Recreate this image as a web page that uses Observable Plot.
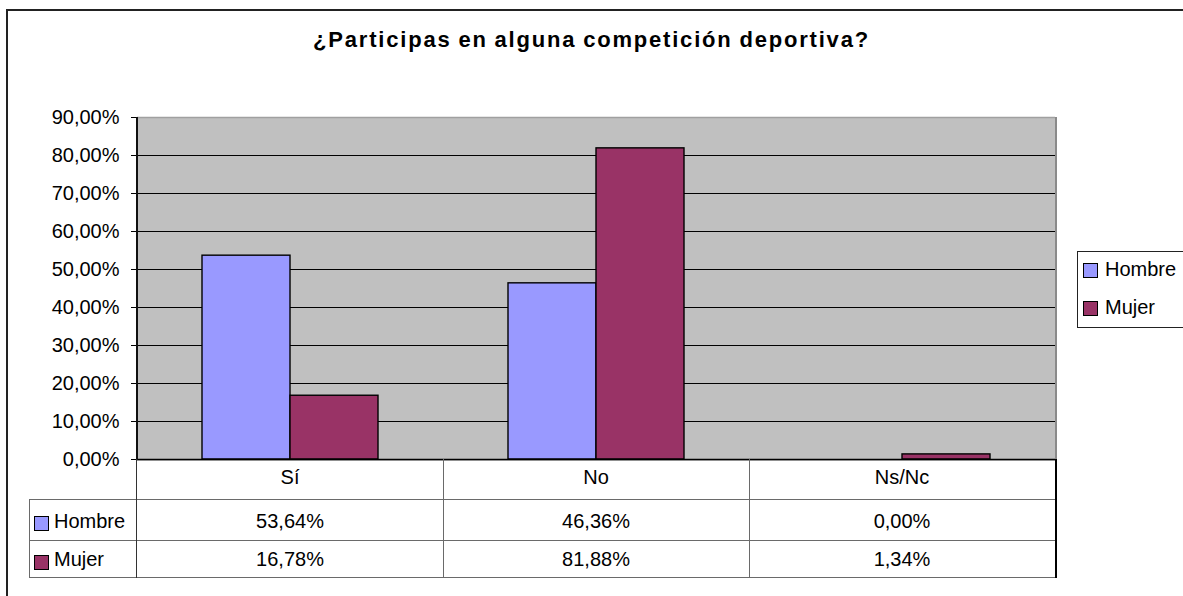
<!DOCTYPE html>
<html>
<head>
<meta charset="utf-8">
<script src="https://cdn.jsdelivr.net/npm/d3@7"></script>
<script src="https://cdn.jsdelivr.net/npm/@observablehq/plot@0.6"></script>
<style>
  html, body { margin: 0; padding: 0; background: #fff; overflow: hidden; }
  #wrap { position: relative; width: 1183px; height: 596px; overflow: hidden;
          font-family: "Liberation Sans", Arial, sans-serif; color: #000; }
  #outer { position: absolute; left: 6px; top: 9px; width: 1300px; height: 700px;
           border-left: 2px solid #222; border-top: 2px solid #222; }
  #title { position: absolute; left: 0; width: 1183px; top: 29px; text-align: center;
           font-weight: bold; font-size: 22px; line-height: 22px; letter-spacing: 1.8px; word-spacing: -1px; }
  #chart svg { position: absolute; left: 0; top: 0; }
  .abs { position: absolute; }
  .txt { position: absolute; font-size: 20px; line-height: 20px; white-space: nowrap; }
  .sw { position: absolute; width: 13px; height: 13px; border: 1px solid #000; box-sizing: content-box; }
  .hl { position: absolute; height: 1px; background: #6a6a6a; }
  .vl { position: absolute; width: 1px; background: #6a6a6a; }
</style>
</head>
<body>
<div id="wrap">
  <div id="outer"></div>
  <div id="title"></div>
  <div id="chart"></div>
  <div id="edges"></div>
  <div id="table"></div>
  <div id="legend"></div>
</div>
<script>
const titleText = "¿Participas en alguna competición deportiva?";
const categories = ["Sí", "No", "Ns/Nc"];
const series = ["Hombre", "Mujer"];
const hombre = [0.5364, 0.4636, 0.0000];
const mujer = [0.1678, 0.8188, 0.0134];
const seriesColors = ["#9999FF", "#993366"];
const yTicks = [0, 0.1, 0.2, 0.3, 0.4, 0.5, 0.6, 0.7, 0.8, 0.9];

const esLocale = d3.formatLocale({decimal: ",", thousands: ".", grouping: [3], currency: ["", " €"]});
const pct = esLocale.format(".2%");

const valuesBySeries = [hombre, mujer];
const data = categories.flatMap((c, i) => series.map((s, j) => ({cat: c, series: s, value: valuesBySeries[j][i]})));

document.getElementById("title").textContent = titleText;

const W = 1183, H = 596;
const plot = Plot.plot({
  width: W, height: H,
  marginLeft: 136, marginRight: 128, marginTop: 117, marginBottom: 137,
  fx: {domain: categories, padding: 0, axis: null, label: null},
  x: {domain: series, paddingInner: 0, paddingOuter: 0.72, axis: null, label: null},
  y: {domain: [0, 0.9], axis: null, label: null},
  color: {domain: series, range: seriesColors},
  style: {fontSize: "20px", fontFamily: "'Liberation Sans', Arial, sans-serif", color: "#000", background: "transparent", overflow: "visible"},
  marks: [
    Plot.frame({fill: "#C0C0C0", stroke: "#C0C0C0", strokeWidth: 2, shapeRendering: "crispEdges"}),
    Plot.gridY(yTicks.filter(t => t > 0 && t < 0.9), {stroke: "#000", strokeOpacity: 1, strokeWidth: 1}),
    Plot.ruleY([0.9], {stroke: "#a0a0a0", strokeWidth: 1.5}),
    Plot.barY(data, {fx: "cat", x: "series", y: "value", fill: "series", stroke: "#000", strokeWidth: 1.4, inset: 0}),
    Plot.ruleY([0], {stroke: "#000", strokeWidth: 1.5}),
    Plot.axisY(yTicks, {tickSize: 6, tickPadding: 12, tickFormat: pct, stroke: "#000", fill: "#000", label: null})
  ]
});
document.getElementById("chart").appendChild(plot);

const fx = plot.scale("fx");
const y = plot.scale("y");
const bw = fx.bandwidth;
function add(parent, cls, styles, text) {
  const el = document.createElement("div");
  el.className = cls;
  Object.assign(el.style, styles);
  if (text != null) el.textContent = text;
  parent.appendChild(el);
  return el;
}
const xLeft = fx.apply(categories[0]);
const xRight = fx.apply(categories[categories.length - 1]) + bw;
const yTop = y.apply(0.9), yZero = y.apply(0);

// plot-area edges: black value axis on the left, grey edge on the right
const edges = document.getElementById("edges");
add(edges, "vl", {left: (Math.round(xLeft) - 1) + "px", top: Math.round(yTop) + "px", width: "2px", height: (yZero - yTop + 1) + "px", background: "#111"});
add(edges, "vl", {left: Math.round(xRight) + "px", top: Math.round(yTop) + "px", width: "2px", height: (yZero - yTop) + "px", background: "#8a8a8a"});

// data table below the chart, aligned with the fx scale
const tableLeft = 29;
const rowTops = [yZero, 499, 540, 577];
const baselines = [484, 527.5, 566];
const table = document.getElementById("table");
for (let r = 1; r < rowTops.length; r++) {
  add(table, "hl", {left: tableLeft + "px", top: Math.round(rowTops[r]) + "px", width: (xRight - tableLeft) + "px"});
}
add(table, "vl", {left: tableLeft + "px", top: rowTops[1] + "px", height: (rowTops[3] - rowTops[1] + 1) + "px"});
categories.forEach((c, i) => {
  const x0 = fx.apply(c);
  add(table, "vl", {left: (Math.round(x0) - (i === 0 ? 1 : 0)) + "px", top: rowTops[0] + "px", height: (rowTops[3] - rowTops[0] + 1) + "px", background: i === 0 ? "#333" : "#6a6a6a"});
});
add(table, "vl", {left: Math.round(xRight) + "px", top: rowTops[0] + "px", height: (rowTops[3] - rowTops[0] + 1) + "px", background: "#000", width: "2px"});
categories.forEach((c) => {
  add(table, "txt", {left: fx.apply(c) + "px", width: bw + "px", textAlign: "center", top: (baselines[0] - 17) + "px"}, c);
});
series.forEach((s, j) => {
  const bl = baselines[j + 1];
  add(table, "sw", {left: "34px", top: (bl - 11.5) + "px", background: seriesColors[j]});
  add(table, "txt", {left: "54px", top: (bl - 17) + "px"}, s);
  categories.forEach((c, i) => {
    add(table, "txt", {left: fx.apply(c) + "px", width: bw + "px", textAlign: "center", top: (bl - 17) + "px"}, pct(valuesBySeries[j][i]));
  });
});

// legend
const legend = document.getElementById("legend");
add(legend, "abs", {left: "1077px", top: "251px", width: "200px", height: "75px", border: "1px solid #222", background: "#fff"});
const legendBaselines = [276, 314];
series.forEach((s, j) => {
  const bl = legendBaselines[j];
  add(legend, "sw", {left: "1083px", top: (bl - 13) + "px", background: seriesColors[j]});
  add(legend, "txt", {left: "1105px", top: (bl - 17) + "px"}, s);
});
</script>
</body>
</html>
